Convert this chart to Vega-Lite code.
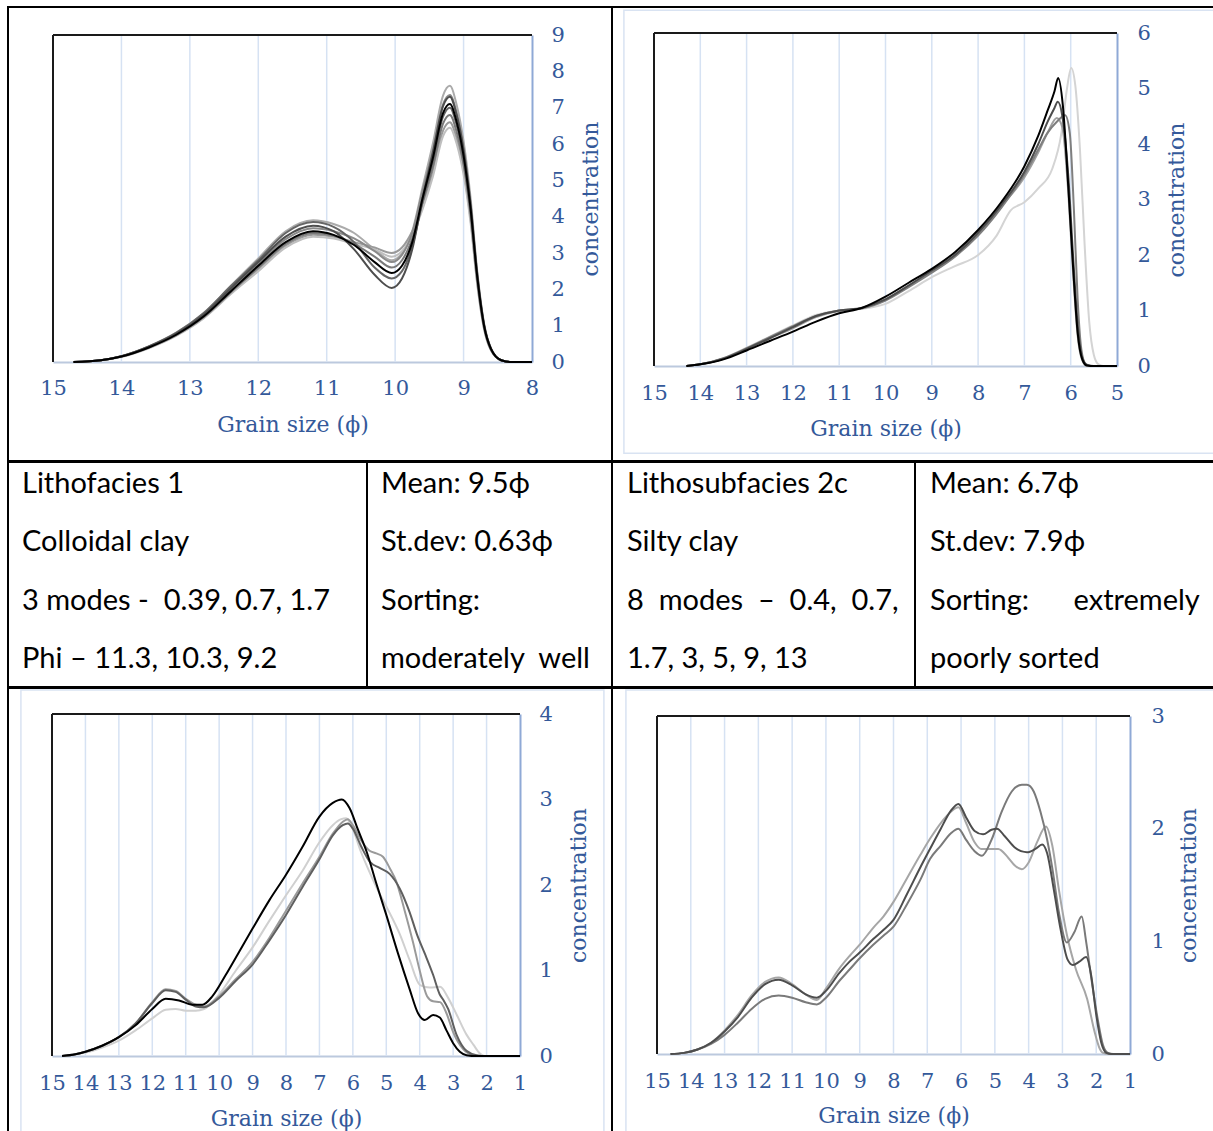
{
  "$schema": "https://vega.github.io/schema/vega-lite/v6.json",
  "background": "white",
  "padding": {"left": 7, "top": 6, "right": 0, "bottom": 0},
  "config": {
    "view": {"stroke": "#000000", "strokeWidth": 2},
    "axis": {
      "labelFont": "DejaVu Serif", "titleFont": "DejaVu Serif",
      "labelColor": "#34599A", "titleColor": "#34599A",
      "labelFontSize": 21, "titleFontSize": 22, "titleFontWeight": "normal",
      "ticks": false, "tickSize": 0, "labelFlush": false, "labelOverlap": false, "labelBound": false,
      "grid": false, "domainWidth": 2, "format": "d"
    },
    "line": {"strokeWidth": 2, "interpolate": "monotone"},
    "rule": {"color": "#D6E2F3", "strokeWidth": 1.5},
    "rect": {"filled": false, "color": "#D9E3F2", "strokeWidth": 1.5},
    "text": {"font": "Lato", "fontSize": 29, "color": "#000000"}
  },
  "datasets": {
    "lithofacies1": [
      {"sample":"a2","phi":14.7,"conc":0},{"sample":"a2","phi":14.3,"conc":0.05},{"sample":"a2","phi":14.0,"conc":0.16},{"sample":"a2","phi":13.6,"conc":0.43},{"sample":"a2","phi":13.2,"conc":0.81},{"sample":"a2","phi":12.8,"conc":1.35},{"sample":"a2","phi":12.4,"conc":2.1},{"sample":"a2","phi":12.0,"conc":2.85},{"sample":"a2","phi":11.6,"conc":3.6},{"sample":"a2","phi":11.2,"conc":3.9},{"sample":"a2","phi":10.9,"conc":3.8},{"sample":"a2","phi":10.6,"conc":3.55},{"sample":"a2","phi":10.3,"conc":3.1},{"sample":"a2","phi":10.05,"conc":2.8},{"sample":"a2","phi":9.9,"conc":3.0},{"sample":"a2","phi":9.75,"conc":3.6},{"sample":"a2","phi":9.6,"conc":4.8},{"sample":"a2","phi":9.45,"conc":6.0},{"sample":"a2","phi":9.3,"conc":7.33},{"sample":"a2","phi":9.2,"conc":7.6},{"sample":"a2","phi":9.1,"conc":7.07},{"sample":"a2","phi":9.0,"conc":6.08},{"sample":"a2","phi":8.9,"conc":4.56},{"sample":"a2","phi":8.8,"conc":2.5},{"sample":"a2","phi":8.7,"conc":1.06},{"sample":"a2","phi":8.6,"conc":0.38},{"sample":"a2","phi":8.45,"conc":0.05},{"sample":"a2","phi":8.3,"conc":0},{"sample":"a2","phi":8.0,"conc":0},
      {"sample":"a4","phi":14.7,"conc":0},{"sample":"a4","phi":14.3,"conc":0.05},{"sample":"a4","phi":14.0,"conc":0.15},{"sample":"a4","phi":13.6,"conc":0.39},{"sample":"a4","phi":13.2,"conc":0.73},{"sample":"a4","phi":12.8,"conc":1.21},{"sample":"a4","phi":12.4,"conc":1.89},{"sample":"a4","phi":12.0,"conc":2.55},{"sample":"a4","phi":11.6,"conc":3.2},{"sample":"a4","phi":11.2,"conc":3.5},{"sample":"a4","phi":10.9,"conc":3.45},{"sample":"a4","phi":10.6,"conc":3.3},{"sample":"a4","phi":10.3,"conc":3.15},{"sample":"a4","phi":10.05,"conc":3.0},{"sample":"a4","phi":9.9,"conc":3.15},{"sample":"a4","phi":9.75,"conc":3.6},{"sample":"a4","phi":9.6,"conc":4.3},{"sample":"a4","phi":9.45,"conc":5.2},{"sample":"a4","phi":9.3,"conc":6.37},{"sample":"a4","phi":9.2,"conc":6.6},{"sample":"a4","phi":9.1,"conc":6.14},{"sample":"a4","phi":9.0,"conc":5.28},{"sample":"a4","phi":8.9,"conc":3.96},{"sample":"a4","phi":8.8,"conc":2.18},{"sample":"a4","phi":8.7,"conc":0.92},{"sample":"a4","phi":8.6,"conc":0.33},{"sample":"a4","phi":8.45,"conc":0.05},{"sample":"a4","phi":8.3,"conc":0},{"sample":"a4","phi":8.0,"conc":0},
      {"sample":"a6","phi":14.7,"conc":0},{"sample":"a6","phi":14.3,"conc":0.05},{"sample":"a6","phi":14.0,"conc":0.14},{"sample":"a6","phi":13.6,"conc":0.38},{"sample":"a6","phi":13.2,"conc":0.72},{"sample":"a6","phi":12.8,"conc":1.2},{"sample":"a6","phi":12.4,"conc":1.87},{"sample":"a6","phi":12.0,"conc":2.5},{"sample":"a6","phi":11.6,"conc":3.15},{"sample":"a6","phi":11.2,"conc":3.45},{"sample":"a6","phi":10.9,"conc":3.4},{"sample":"a6","phi":10.6,"conc":3.25},{"sample":"a6","phi":10.3,"conc":3.1},{"sample":"a6","phi":10.05,"conc":2.9},{"sample":"a6","phi":9.9,"conc":3.05},{"sample":"a6","phi":9.75,"conc":3.5},{"sample":"a6","phi":9.6,"conc":4.2},{"sample":"a6","phi":9.45,"conc":5.09},{"sample":"a6","phi":9.3,"conc":6.22},{"sample":"a6","phi":9.2,"conc":6.45},{"sample":"a6","phi":9.1,"conc":6.0},{"sample":"a6","phi":9.0,"conc":5.16},{"sample":"a6","phi":8.9,"conc":3.87},{"sample":"a6","phi":8.8,"conc":2.13},{"sample":"a6","phi":8.7,"conc":0.9},{"sample":"a6","phi":8.6,"conc":0.32},{"sample":"a6","phi":8.45,"conc":0.05},{"sample":"a6","phi":8.3,"conc":0},{"sample":"a6","phi":8.0,"conc":0},
      {"sample":"a5","phi":14.7,"conc":0},{"sample":"a5","phi":14.3,"conc":0.05},{"sample":"a5","phi":14.0,"conc":0.15},{"sample":"a5","phi":13.6,"conc":0.4},{"sample":"a5","phi":13.2,"conc":0.74},{"sample":"a5","phi":12.8,"conc":1.23},{"sample":"a5","phi":12.4,"conc":1.92},{"sample":"a5","phi":12.0,"conc":2.6},{"sample":"a5","phi":11.6,"conc":3.25},{"sample":"a5","phi":11.2,"conc":3.55},{"sample":"a5","phi":10.9,"conc":3.48},{"sample":"a5","phi":10.6,"conc":3.25},{"sample":"a5","phi":10.3,"conc":2.9},{"sample":"a5","phi":10.05,"conc":2.6},{"sample":"a5","phi":9.9,"conc":2.8},{"sample":"a5","phi":9.75,"conc":3.4},{"sample":"a5","phi":9.6,"conc":4.4},{"sample":"a5","phi":9.45,"conc":5.36},{"sample":"a5","phi":9.3,"conc":6.56},{"sample":"a5","phi":9.2,"conc":6.8},{"sample":"a5","phi":9.1,"conc":6.32},{"sample":"a5","phi":9.0,"conc":5.44},{"sample":"a5","phi":8.9,"conc":4.08},{"sample":"a5","phi":8.8,"conc":2.24},{"sample":"a5","phi":8.7,"conc":0.95},{"sample":"a5","phi":8.6,"conc":0.34},{"sample":"a5","phi":8.45,"conc":0.05},{"sample":"a5","phi":8.3,"conc":0},{"sample":"a5","phi":8.0,"conc":0},
      {"sample":"a8","phi":14.7,"conc":0},{"sample":"a8","phi":14.3,"conc":0.05},{"sample":"a8","phi":14.0,"conc":0.15},{"sample":"a8","phi":13.6,"conc":0.41},{"sample":"a8","phi":13.2,"conc":0.77},{"sample":"a8","phi":12.8,"conc":1.28},{"sample":"a8","phi":12.4,"conc":1.99},{"sample":"a8","phi":12.0,"conc":2.7},{"sample":"a8","phi":11.6,"conc":3.38},{"sample":"a8","phi":11.2,"conc":3.68},{"sample":"a8","phi":10.9,"conc":3.6},{"sample":"a8","phi":10.6,"conc":3.4},{"sample":"a8","phi":10.3,"conc":3.05},{"sample":"a8","phi":10.05,"conc":2.75},{"sample":"a8","phi":9.9,"conc":2.95},{"sample":"a8","phi":9.75,"conc":3.55},{"sample":"a8","phi":9.6,"conc":4.7},{"sample":"a8","phi":9.45,"conc":5.8},{"sample":"a8","phi":9.3,"conc":7.09},{"sample":"a8","phi":9.2,"conc":7.35},{"sample":"a8","phi":9.1,"conc":6.84},{"sample":"a8","phi":9.0,"conc":5.88},{"sample":"a8","phi":8.9,"conc":4.41},{"sample":"a8","phi":8.8,"conc":2.43},{"sample":"a8","phi":8.7,"conc":1.03},{"sample":"a8","phi":8.6,"conc":0.37},{"sample":"a8","phi":8.45,"conc":0.05},{"sample":"a8","phi":8.3,"conc":0},{"sample":"a8","phi":8.0,"conc":0},
      {"sample":"a7","phi":14.7,"conc":0},{"sample":"a7","phi":14.3,"conc":0.05},{"sample":"a7","phi":14.0,"conc":0.16},{"sample":"a7","phi":13.6,"conc":0.43},{"sample":"a7","phi":13.2,"conc":0.8},{"sample":"a7","phi":12.8,"conc":1.34},{"sample":"a7","phi":12.4,"conc":2.09},{"sample":"a7","phi":12.0,"conc":2.8},{"sample":"a7","phi":11.6,"conc":3.55},{"sample":"a7","phi":11.2,"conc":3.85},{"sample":"a7","phi":10.9,"conc":3.72},{"sample":"a7","phi":10.6,"conc":3.3},{"sample":"a7","phi":10.3,"conc":2.6},{"sample":"a7","phi":10.05,"conc":2.3},{"sample":"a7","phi":9.9,"conc":2.5},{"sample":"a7","phi":9.75,"conc":3.2},{"sample":"a7","phi":9.6,"conc":4.4},{"sample":"a7","phi":9.45,"conc":5.52},{"sample":"a7","phi":9.3,"conc":6.75},{"sample":"a7","phi":9.2,"conc":7.0},{"sample":"a7","phi":9.1,"conc":6.51},{"sample":"a7","phi":9.0,"conc":5.6},{"sample":"a7","phi":8.9,"conc":4.2},{"sample":"a7","phi":8.8,"conc":2.31},{"sample":"a7","phi":8.7,"conc":0.98},{"sample":"a7","phi":8.6,"conc":0.35},{"sample":"a7","phi":8.45,"conc":0.05},{"sample":"a7","phi":8.3,"conc":0},{"sample":"a7","phi":8.0,"conc":0},
      {"sample":"a3","phi":14.7,"conc":0},{"sample":"a3","phi":14.3,"conc":0.05},{"sample":"a3","phi":14.0,"conc":0.16},{"sample":"a3","phi":13.6,"conc":0.42},{"sample":"a3","phi":13.2,"conc":0.78},{"sample":"a3","phi":12.8,"conc":1.3},{"sample":"a3","phi":12.4,"conc":2.03},{"sample":"a3","phi":12.0,"conc":2.75},{"sample":"a3","phi":11.6,"conc":3.45},{"sample":"a3","phi":11.2,"conc":3.75},{"sample":"a3","phi":10.9,"conc":3.6},{"sample":"a3","phi":10.6,"conc":3.1},{"sample":"a3","phi":10.3,"conc":2.4},{"sample":"a3","phi":10.05,"conc":2.04},{"sample":"a3","phi":9.9,"conc":2.3},{"sample":"a3","phi":9.75,"conc":3.1},{"sample":"a3","phi":9.6,"conc":4.5},{"sample":"a3","phi":9.45,"conc":5.75},{"sample":"a3","phi":9.3,"conc":7.04},{"sample":"a3","phi":9.2,"conc":7.3},{"sample":"a3","phi":9.1,"conc":6.79},{"sample":"a3","phi":9.0,"conc":5.84},{"sample":"a3","phi":8.9,"conc":4.38},{"sample":"a3","phi":8.8,"conc":2.41},{"sample":"a3","phi":8.7,"conc":1.02},{"sample":"a3","phi":8.6,"conc":0.37},{"sample":"a3","phi":8.45,"conc":0.05},{"sample":"a3","phi":8.3,"conc":0},{"sample":"a3","phi":8.0,"conc":0},
      {"sample":"a1","phi":14.7,"conc":0},{"sample":"a1","phi":14.3,"conc":0.05},{"sample":"a1","phi":14.0,"conc":0.15},{"sample":"a1","phi":13.6,"conc":0.4},{"sample":"a1","phi":13.2,"conc":0.75},{"sample":"a1","phi":12.8,"conc":1.25},{"sample":"a1","phi":12.4,"conc":1.95},{"sample":"a1","phi":12.0,"conc":2.65},{"sample":"a1","phi":11.6,"conc":3.3},{"sample":"a1","phi":11.2,"conc":3.6},{"sample":"a1","phi":10.9,"conc":3.5},{"sample":"a1","phi":10.6,"conc":3.22},{"sample":"a1","phi":10.3,"conc":2.75},{"sample":"a1","phi":10.05,"conc":2.45},{"sample":"a1","phi":9.9,"conc":2.65},{"sample":"a1","phi":9.75,"conc":3.3},{"sample":"a1","phi":9.6,"conc":4.5},{"sample":"a1","phi":9.45,"conc":5.6},{"sample":"a1","phi":9.3,"conc":6.85},{"sample":"a1","phi":9.2,"conc":7.1},{"sample":"a1","phi":9.1,"conc":6.6},{"sample":"a1","phi":9.0,"conc":5.68},{"sample":"a1","phi":8.9,"conc":4.26},{"sample":"a1","phi":8.8,"conc":2.34},{"sample":"a1","phi":8.7,"conc":0.99},{"sample":"a1","phi":8.6,"conc":0.36},{"sample":"a1","phi":8.45,"conc":0.05},{"sample":"a1","phi":8.3,"conc":0},{"sample":"a1","phi":8.0,"conc":0}
    ],
    "lithosubfacies2c": [
      {"sample":"b5","phi":14.3,"conc":0},{"sample":"b5","phi":14.0,"conc":0.03},{"sample":"b5","phi":13.5,"conc":0.14},{"sample":"b5","phi":13.0,"conc":0.33},{"sample":"b5","phi":12.5,"conc":0.53},{"sample":"b5","phi":12.0,"conc":0.73},{"sample":"b5","phi":11.5,"conc":0.92},{"sample":"b5","phi":11.0,"conc":1.0},{"sample":"b5","phi":10.5,"conc":1.03},{"sample":"b5","phi":10.0,"conc":1.12},{"sample":"b5","phi":9.5,"conc":1.35},{"sample":"b5","phi":9.0,"conc":1.6},{"sample":"b5","phi":8.5,"conc":1.8},{"sample":"b5","phi":8.0,"conc":2.0},{"sample":"b5","phi":7.6,"conc":2.35},{"sample":"b5","phi":7.3,"conc":2.8},{"sample":"b5","phi":7.0,"conc":2.95},{"sample":"b5","phi":6.7,"conc":3.2},{"sample":"b5","phi":6.4,"conc":3.55},{"sample":"b5","phi":6.2,"conc":4.2},{"sample":"b5","phi":6.08,"conc":5.0},{"sample":"b5","phi":5.99,"conc":5.37},{"sample":"b5","phi":5.9,"conc":5.05},{"sample":"b5","phi":5.8,"conc":3.9},{"sample":"b5","phi":5.7,"conc":2.2},{"sample":"b5","phi":5.6,"conc":0.8},{"sample":"b5","phi":5.5,"conc":0.2},{"sample":"b5","phi":5.4,"conc":0.03},{"sample":"b5","phi":5.3,"conc":0},{"sample":"b5","phi":5.0,"conc":0},
      {"sample":"b4","phi":14.3,"conc":0},{"sample":"b4","phi":14.0,"conc":0.03},{"sample":"b4","phi":13.5,"conc":0.13},{"sample":"b4","phi":13.0,"conc":0.3},{"sample":"b4","phi":12.5,"conc":0.5},{"sample":"b4","phi":12.0,"conc":0.68},{"sample":"b4","phi":11.5,"conc":0.88},{"sample":"b4","phi":11.0,"conc":0.99},{"sample":"b4","phi":10.5,"conc":1.04},{"sample":"b4","phi":10.0,"conc":1.2},{"sample":"b4","phi":9.5,"conc":1.45},{"sample":"b4","phi":9.0,"conc":1.7},{"sample":"b4","phi":8.5,"conc":2.0},{"sample":"b4","phi":8.0,"conc":2.38},{"sample":"b4","phi":7.5,"conc":2.88},{"sample":"b4","phi":7.0,"conc":3.4},{"sample":"b4","phi":6.7,"conc":3.85},{"sample":"b4","phi":6.5,"conc":4.2},{"sample":"b4","phi":6.3,"conc":4.47},{"sample":"b4","phi":6.18,"conc":4.3},{"sample":"b4","phi":6.05,"conc":3.1},{"sample":"b4","phi":5.95,"conc":1.7},{"sample":"b4","phi":5.85,"conc":0.55},{"sample":"b4","phi":5.75,"conc":0.1},{"sample":"b4","phi":5.65,"conc":0},{"sample":"b4","phi":5.0,"conc":0},
      {"sample":"b3","phi":14.3,"conc":0},{"sample":"b3","phi":14.0,"conc":0.03},{"sample":"b3","phi":13.5,"conc":0.14},{"sample":"b3","phi":13.0,"conc":0.32},{"sample":"b3","phi":12.5,"conc":0.52},{"sample":"b3","phi":12.0,"conc":0.72},{"sample":"b3","phi":11.5,"conc":0.9},{"sample":"b3","phi":11.0,"conc":1.0},{"sample":"b3","phi":10.5,"conc":1.04},{"sample":"b3","phi":10.0,"conc":1.18},{"sample":"b3","phi":9.5,"conc":1.42},{"sample":"b3","phi":9.0,"conc":1.68},{"sample":"b3","phi":8.5,"conc":1.97},{"sample":"b3","phi":8.0,"conc":2.35},{"sample":"b3","phi":7.5,"conc":2.85},{"sample":"b3","phi":7.0,"conc":3.45},{"sample":"b3","phi":6.7,"conc":3.9},{"sample":"b3","phi":6.5,"conc":4.2},{"sample":"b3","phi":6.3,"conc":4.4},{"sample":"b3","phi":6.12,"conc":4.52},{"sample":"b3","phi":6.02,"conc":4.2},{"sample":"b3","phi":5.93,"conc":2.8},{"sample":"b3","phi":5.85,"conc":1.2},{"sample":"b3","phi":5.77,"conc":0.3},{"sample":"b3","phi":5.68,"conc":0.04},{"sample":"b3","phi":5.55,"conc":0},{"sample":"b3","phi":5.0,"conc":0},
      {"sample":"b2","phi":14.3,"conc":0},{"sample":"b2","phi":14.0,"conc":0.03},{"sample":"b2","phi":13.5,"conc":0.13},{"sample":"b2","phi":13.0,"conc":0.31},{"sample":"b2","phi":12.5,"conc":0.5},{"sample":"b2","phi":12.0,"conc":0.7},{"sample":"b2","phi":11.5,"conc":0.9},{"sample":"b2","phi":11.0,"conc":1.0},{"sample":"b2","phi":10.5,"conc":1.05},{"sample":"b2","phi":10.0,"conc":1.2},{"sample":"b2","phi":9.5,"conc":1.45},{"sample":"b2","phi":9.0,"conc":1.72},{"sample":"b2","phi":8.5,"conc":2.0},{"sample":"b2","phi":8.0,"conc":2.4},{"sample":"b2","phi":7.5,"conc":2.9},{"sample":"b2","phi":7.0,"conc":3.5},{"sample":"b2","phi":6.7,"conc":4.0},{"sample":"b2","phi":6.5,"conc":4.4},{"sample":"b2","phi":6.35,"conc":4.65},{"sample":"b2","phi":6.28,"conc":4.76},{"sample":"b2","phi":6.18,"conc":4.5},{"sample":"b2","phi":6.05,"conc":3.4},{"sample":"b2","phi":5.95,"conc":2.0},{"sample":"b2","phi":5.85,"conc":0.75},{"sample":"b2","phi":5.75,"conc":0.15},{"sample":"b2","phi":5.65,"conc":0.02},{"sample":"b2","phi":5.5,"conc":0},{"sample":"b2","phi":5.0,"conc":0},
      {"sample":"b1","phi":14.3,"conc":0},{"sample":"b1","phi":14.0,"conc":0.03},{"sample":"b1","phi":13.5,"conc":0.12},{"sample":"b1","phi":13.0,"conc":0.28},{"sample":"b1","phi":12.5,"conc":0.45},{"sample":"b1","phi":12.0,"conc":0.62},{"sample":"b1","phi":11.5,"conc":0.8},{"sample":"b1","phi":11.0,"conc":0.95},{"sample":"b1","phi":10.5,"conc":1.05},{"sample":"b1","phi":10.0,"conc":1.25},{"sample":"b1","phi":9.5,"conc":1.5},{"sample":"b1","phi":9.0,"conc":1.75},{"sample":"b1","phi":8.5,"conc":2.05},{"sample":"b1","phi":8.0,"conc":2.45},{"sample":"b1","phi":7.5,"conc":2.95},{"sample":"b1","phi":7.0,"conc":3.6},{"sample":"b1","phi":6.7,"conc":4.15},{"sample":"b1","phi":6.5,"conc":4.6},{"sample":"b1","phi":6.35,"conc":4.95},{"sample":"b1","phi":6.27,"conc":5.19},{"sample":"b1","phi":6.17,"conc":4.7},{"sample":"b1","phi":6.05,"conc":3.2},{"sample":"b1","phi":5.95,"conc":1.8},{"sample":"b1","phi":5.85,"conc":0.6},{"sample":"b1","phi":5.75,"conc":0.12},{"sample":"b1","phi":5.65,"conc":0.01},{"sample":"b1","phi":5.5,"conc":0},{"sample":"b1","phi":5.0,"conc":0}
    ],
    "chartC": [
      {"sample":"c4","phi":14.7,"conc":0},{"sample":"c4","phi":14.3,"conc":0.02},{"sample":"c4","phi":14.0,"conc":0.04},{"sample":"c4","phi":13.5,"conc":0.1},{"sample":"c4","phi":13.0,"conc":0.18},{"sample":"c4","phi":12.5,"conc":0.3},{"sample":"c4","phi":12.0,"conc":0.44},{"sample":"c4","phi":11.6,"conc":0.54},{"sample":"c4","phi":11.3,"conc":0.55},{"sample":"c4","phi":11.0,"conc":0.53},{"sample":"c4","phi":10.7,"conc":0.53},{"sample":"c4","phi":10.45,"conc":0.55},{"sample":"c4","phi":10.0,"conc":0.72},{"sample":"c4","phi":9.5,"conc":1.0},{"sample":"c4","phi":9.0,"conc":1.27},{"sample":"c4","phi":8.5,"conc":1.58},{"sample":"c4","phi":8.0,"conc":1.88},{"sample":"c4","phi":7.5,"conc":2.17},{"sample":"c4","phi":7.0,"conc":2.5},{"sample":"c4","phi":6.6,"conc":2.7},{"sample":"c4","phi":6.35,"conc":2.77},{"sample":"c4","phi":6.2,"conc":2.78},{"sample":"c4","phi":6.0,"conc":2.65},{"sample":"c4","phi":5.75,"conc":2.38},{"sample":"c4","phi":5.5,"conc":2.15},{"sample":"c4","phi":5.28,"conc":1.96},{"sample":"c4","phi":5.0,"conc":1.75},{"sample":"c4","phi":4.59,"conc":1.42},{"sample":"c4","phi":4.3,"conc":1.12},{"sample":"c4","phi":3.99,"conc":0.83},{"sample":"c4","phi":3.7,"conc":0.8},{"sample":"c4","phi":3.39,"conc":0.81},{"sample":"c4","phi":3.15,"conc":0.68},{"sample":"c4","phi":2.89,"conc":0.48},{"sample":"c4","phi":2.6,"conc":0.25},{"sample":"c4","phi":2.39,"conc":0.13},{"sample":"c4","phi":2.2,"conc":0.03},{"sample":"c4","phi":2.05,"conc":0},{"sample":"c4","phi":1.0,"conc":0},
      {"sample":"c3","phi":14.7,"conc":0},{"sample":"c3","phi":14.3,"conc":0.02},{"sample":"c3","phi":14.0,"conc":0.05},{"sample":"c3","phi":13.5,"conc":0.12},{"sample":"c3","phi":13.0,"conc":0.22},{"sample":"c3","phi":12.5,"conc":0.38},{"sample":"c3","phi":12.0,"conc":0.63},{"sample":"c3","phi":11.6,"conc":0.78},{"sample":"c3","phi":11.3,"conc":0.76},{"sample":"c3","phi":11.0,"conc":0.67},{"sample":"c3","phi":10.7,"conc":0.6},{"sample":"c3","phi":10.45,"conc":0.58},{"sample":"c3","phi":10.0,"conc":0.7},{"sample":"c3","phi":9.5,"conc":0.9},{"sample":"c3","phi":9.0,"conc":1.1},{"sample":"c3","phi":8.5,"conc":1.38},{"sample":"c3","phi":8.0,"conc":1.7},{"sample":"c3","phi":7.5,"conc":2.02},{"sample":"c3","phi":7.0,"conc":2.33},{"sample":"c3","phi":6.6,"conc":2.6},{"sample":"c3","phi":6.3,"conc":2.74},{"sample":"c3","phi":6.15,"conc":2.77},{"sample":"c3","phi":6.0,"conc":2.7},{"sample":"c3","phi":5.75,"conc":2.52},{"sample":"c3","phi":5.5,"conc":2.4},{"sample":"c3","phi":5.3,"conc":2.37},{"sample":"c3","phi":5.1,"conc":2.33},{"sample":"c3","phi":4.9,"conc":2.2},{"sample":"c3","phi":4.71,"conc":2.05},{"sample":"c3","phi":4.45,"conc":1.7},{"sample":"c3","phi":4.2,"conc":1.33},{"sample":"c3","phi":4.0,"conc":1.0},{"sample":"c3","phi":3.78,"conc":0.7},{"sample":"c3","phi":3.6,"conc":0.64},{"sample":"c3","phi":3.39,"conc":0.63},{"sample":"c3","phi":3.2,"conc":0.5},{"sample":"c3","phi":3.0,"conc":0.28},{"sample":"c3","phi":2.7,"conc":0.08},{"sample":"c3","phi":2.4,"conc":0.01},{"sample":"c3","phi":2.1,"conc":0},{"sample":"c3","phi":1.0,"conc":0},
      {"sample":"c2","phi":14.7,"conc":0},{"sample":"c2","phi":14.3,"conc":0.02},{"sample":"c2","phi":14.0,"conc":0.05},{"sample":"c2","phi":13.5,"conc":0.12},{"sample":"c2","phi":13.0,"conc":0.22},{"sample":"c2","phi":12.5,"conc":0.38},{"sample":"c2","phi":12.0,"conc":0.62},{"sample":"c2","phi":11.6,"conc":0.77},{"sample":"c2","phi":11.3,"conc":0.75},{"sample":"c2","phi":11.0,"conc":0.66},{"sample":"c2","phi":10.7,"conc":0.58},{"sample":"c2","phi":10.45,"conc":0.57},{"sample":"c2","phi":10.0,"conc":0.68},{"sample":"c2","phi":9.5,"conc":0.88},{"sample":"c2","phi":9.0,"conc":1.07},{"sample":"c2","phi":8.5,"conc":1.35},{"sample":"c2","phi":8.0,"conc":1.65},{"sample":"c2","phi":7.5,"conc":1.98},{"sample":"c2","phi":7.0,"conc":2.3},{"sample":"c2","phi":6.6,"conc":2.58},{"sample":"c2","phi":6.3,"conc":2.7},{"sample":"c2","phi":6.15,"conc":2.72},{"sample":"c2","phi":6.0,"conc":2.66},{"sample":"c2","phi":5.75,"conc":2.45},{"sample":"c2","phi":5.49,"conc":2.27},{"sample":"c2","phi":5.2,"conc":2.2},{"sample":"c2","phi":4.9,"conc":2.13},{"sample":"c2","phi":4.6,"conc":1.96},{"sample":"c2","phi":4.3,"conc":1.68},{"sample":"c2","phi":4.08,"conc":1.42},{"sample":"c2","phi":3.85,"conc":1.2},{"sample":"c2","phi":3.6,"conc":0.95},{"sample":"c2","phi":3.4,"conc":0.72},{"sample":"c2","phi":3.3,"conc":0.66},{"sample":"c2","phi":3.15,"conc":0.55},{"sample":"c2","phi":2.9,"conc":0.25},{"sample":"c2","phi":2.6,"conc":0.06},{"sample":"c2","phi":2.3,"conc":0.01},{"sample":"c2","phi":2.0,"conc":0},{"sample":"c2","phi":1.0,"conc":0},
      {"sample":"c1","phi":14.7,"conc":0},{"sample":"c1","phi":14.3,"conc":0.02},{"sample":"c1","phi":14.0,"conc":0.05},{"sample":"c1","phi":13.5,"conc":0.12},{"sample":"c1","phi":13.0,"conc":0.22},{"sample":"c1","phi":12.5,"conc":0.36},{"sample":"c1","phi":12.0,"conc":0.55},{"sample":"c1","phi":11.6,"conc":0.67},{"sample":"c1","phi":11.2,"conc":0.65},{"sample":"c1","phi":10.8,"conc":0.6},{"sample":"c1","phi":10.5,"conc":0.6},{"sample":"c1","phi":10.2,"conc":0.7},{"sample":"c1","phi":9.8,"conc":0.95},{"sample":"c1","phi":9.4,"conc":1.22},{"sample":"c1","phi":9.0,"conc":1.49},{"sample":"c1","phi":8.5,"conc":1.82},{"sample":"c1","phi":8.0,"conc":2.12},{"sample":"c1","phi":7.5,"conc":2.45},{"sample":"c1","phi":7.0,"conc":2.8},{"sample":"c1","phi":6.6,"conc":2.96},{"sample":"c1","phi":6.33,"conc":3.0},{"sample":"c1","phi":6.1,"conc":2.9},{"sample":"c1","phi":5.85,"conc":2.65},{"sample":"c1","phi":5.58,"conc":2.38},{"sample":"c1","phi":5.3,"conc":2.02},{"sample":"c1","phi":5.0,"conc":1.65},{"sample":"c1","phi":4.65,"conc":1.2},{"sample":"c1","phi":4.3,"conc":0.78},{"sample":"c1","phi":4.05,"conc":0.5},{"sample":"c1","phi":3.85,"conc":0.42},{"sample":"c1","phi":3.6,"conc":0.48},{"sample":"c1","phi":3.4,"conc":0.45},{"sample":"c1","phi":3.2,"conc":0.3},{"sample":"c1","phi":3.0,"conc":0.15},{"sample":"c1","phi":2.8,"conc":0.05},{"sample":"c1","phi":2.6,"conc":0.01},{"sample":"c1","phi":2.3,"conc":0},{"sample":"c1","phi":1.0,"conc":0}
    ],
    "chartD": [
      {"sample":"d3","phi":14.6,"conc":0},{"sample":"d3","phi":14.2,"conc":0.01},{"sample":"d3","phi":13.8,"conc":0.04},{"sample":"d3","phi":13.4,"conc":0.1},{"sample":"d3","phi":13.0,"conc":0.21},{"sample":"d3","phi":12.6,"conc":0.35},{"sample":"d3","phi":12.2,"conc":0.52},{"sample":"d3","phi":11.8,"conc":0.64},{"sample":"d3","phi":11.4,"conc":0.68},{"sample":"d3","phi":11.0,"conc":0.62},{"sample":"d3","phi":10.6,"conc":0.53},{"sample":"d3","phi":10.27,"conc":0.48},{"sample":"d3","phi":10.0,"conc":0.58},{"sample":"d3","phi":9.6,"conc":0.76},{"sample":"d3","phi":9.3,"conc":0.87},{"sample":"d3","phi":9.0,"conc":0.97},{"sample":"d3","phi":8.6,"conc":1.12},{"sample":"d3","phi":8.3,"conc":1.22},{"sample":"d3","phi":8.0,"conc":1.35},{"sample":"d3","phi":7.6,"conc":1.56},{"sample":"d3","phi":7.2,"conc":1.77},{"sample":"d3","phi":6.92,"conc":1.91},{"sample":"d3","phi":6.6,"conc":2.05},{"sample":"d3","phi":6.3,"conc":2.15},{"sample":"d3","phi":6.08,"conc":2.19},{"sample":"d3","phi":5.85,"conc":2.05},{"sample":"d3","phi":5.6,"conc":1.88},{"sample":"d3","phi":5.4,"conc":1.82},{"sample":"d3","phi":5.1,"conc":1.82},{"sample":"d3","phi":4.9,"conc":1.82},{"sample":"d3","phi":4.6,"conc":1.74},{"sample":"d3","phi":4.4,"conc":1.67},{"sample":"d3","phi":4.2,"conc":1.64},{"sample":"d3","phi":4.0,"conc":1.7},{"sample":"d3","phi":3.75,"conc":1.88},{"sample":"d3","phi":3.49,"conc":2.02},{"sample":"d3","phi":3.3,"conc":1.85},{"sample":"d3","phi":3.1,"conc":1.45},{"sample":"d3","phi":2.87,"conc":1.06},{"sample":"d3","phi":2.6,"conc":0.75},{"sample":"d3","phi":2.27,"conc":0.49},{"sample":"d3","phi":2.05,"conc":0.2},{"sample":"d3","phi":1.9,"conc":0.05},{"sample":"d3","phi":1.8,"conc":0.01},{"sample":"d3","phi":1.6,"conc":0},{"sample":"d3","phi":1.0,"conc":0},
      {"sample":"d2","phi":14.6,"conc":0},{"sample":"d2","phi":14.2,"conc":0.01},{"sample":"d2","phi":13.8,"conc":0.04},{"sample":"d2","phi":13.4,"conc":0.09},{"sample":"d2","phi":13.0,"conc":0.17},{"sample":"d2","phi":12.6,"conc":0.28},{"sample":"d2","phi":12.2,"conc":0.4},{"sample":"d2","phi":11.8,"conc":0.49},{"sample":"d2","phi":11.4,"conc":0.52},{"sample":"d2","phi":11.0,"conc":0.5},{"sample":"d2","phi":10.6,"conc":0.46},{"sample":"d2","phi":10.27,"conc":0.44},{"sample":"d2","phi":10.0,"conc":0.5},{"sample":"d2","phi":9.6,"conc":0.65},{"sample":"d2","phi":9.3,"conc":0.75},{"sample":"d2","phi":9.0,"conc":0.85},{"sample":"d2","phi":8.6,"conc":0.97},{"sample":"d2","phi":8.3,"conc":1.05},{"sample":"d2","phi":8.0,"conc":1.13},{"sample":"d2","phi":7.6,"conc":1.33},{"sample":"d2","phi":7.2,"conc":1.55},{"sample":"d2","phi":6.92,"conc":1.73},{"sample":"d2","phi":6.6,"conc":1.85},{"sample":"d2","phi":6.3,"conc":1.96},{"sample":"d2","phi":6.08,"conc":2.0},{"sample":"d2","phi":5.85,"conc":1.9},{"sample":"d2","phi":5.6,"conc":1.8},{"sample":"d2","phi":5.38,"conc":1.76},{"sample":"d2","phi":5.1,"conc":1.9},{"sample":"d2","phi":4.8,"conc":2.15},{"sample":"d2","phi":4.5,"conc":2.33},{"sample":"d2","phi":4.2,"conc":2.39},{"sample":"d2","phi":4.05,"conc":2.39},{"sample":"d2","phi":3.85,"conc":2.33},{"sample":"d2","phi":3.65,"conc":2.15},{"sample":"d2","phi":3.45,"conc":1.9},{"sample":"d2","phi":3.3,"conc":1.65},{"sample":"d2","phi":3.1,"conc":1.25},{"sample":"d2","phi":2.87,"conc":0.99},{"sample":"d2","phi":2.65,"conc":1.08},{"sample":"d2","phi":2.43,"conc":1.22},{"sample":"d2","phi":2.3,"conc":1.0},{"sample":"d2","phi":2.13,"conc":0.64},{"sample":"d2","phi":1.95,"conc":0.3},{"sample":"d2","phi":1.8,"conc":0.08},{"sample":"d2","phi":1.65,"conc":0.01},{"sample":"d2","phi":1.5,"conc":0},{"sample":"d2","phi":1.0,"conc":0},
      {"sample":"d1","phi":14.6,"conc":0},{"sample":"d1","phi":14.2,"conc":0.01},{"sample":"d1","phi":13.8,"conc":0.04},{"sample":"d1","phi":13.4,"conc":0.1},{"sample":"d1","phi":13.0,"conc":0.2},{"sample":"d1","phi":12.6,"conc":0.33},{"sample":"d1","phi":12.2,"conc":0.5},{"sample":"d1","phi":11.8,"conc":0.62},{"sample":"d1","phi":11.4,"conc":0.66},{"sample":"d1","phi":11.0,"conc":0.61},{"sample":"d1","phi":10.6,"conc":0.53},{"sample":"d1","phi":10.27,"conc":0.5},{"sample":"d1","phi":10.0,"conc":0.56},{"sample":"d1","phi":9.6,"conc":0.72},{"sample":"d1","phi":9.3,"conc":0.82},{"sample":"d1","phi":9.0,"conc":0.9},{"sample":"d1","phi":8.6,"conc":1.02},{"sample":"d1","phi":8.3,"conc":1.1},{"sample":"d1","phi":8.0,"conc":1.19},{"sample":"d1","phi":7.6,"conc":1.42},{"sample":"d1","phi":7.2,"conc":1.66},{"sample":"d1","phi":6.92,"conc":1.82},{"sample":"d1","phi":6.6,"conc":2.0},{"sample":"d1","phi":6.3,"conc":2.16},{"sample":"d1","phi":6.08,"conc":2.22},{"sample":"d1","phi":5.85,"conc":2.1},{"sample":"d1","phi":5.6,"conc":1.98},{"sample":"d1","phi":5.35,"conc":1.95},{"sample":"d1","phi":5.1,"conc":1.99},{"sample":"d1","phi":4.94,"conc":2.0},{"sample":"d1","phi":4.7,"conc":1.93},{"sample":"d1","phi":4.4,"conc":1.83},{"sample":"d1","phi":4.05,"conc":1.79},{"sample":"d1","phi":3.8,"conc":1.82},{"sample":"d1","phi":3.6,"conc":1.86},{"sample":"d1","phi":3.45,"conc":1.78},{"sample":"d1","phi":3.25,"conc":1.45},{"sample":"d1","phi":3.05,"conc":1.1},{"sample":"d1","phi":2.85,"conc":0.84},{"sample":"d1","phi":2.69,"conc":0.79},{"sample":"d1","phi":2.5,"conc":0.82},{"sample":"d1","phi":2.3,"conc":0.86},{"sample":"d1","phi":2.15,"conc":0.7},{"sample":"d1","phi":2.0,"conc":0.35},{"sample":"d1","phi":1.85,"conc":0.1},{"sample":"d1","phi":1.7,"conc":0.01},{"sample":"d1","phi":1.55,"conc":0},{"sample":"d1","phi":1.0,"conc":0}
    ],
    "summary": [
      {"col":1,"line":1,"text":"Lithofacies 1"},
      {"col":1,"line":2,"text":"Colloidal clay"},
      {"col":1,"line":3,"text":"3 modes -\u00a0 0.39, 0.7, 1.7"},
      {"col":1,"line":4,"text":"Phi – 11.3, 10.3, 9.2"},
      {"col":2,"line":1,"text":"Mean: 9.5ϕ"},
      {"col":2,"line":2,"text":"St.dev: 0.63ϕ"},
      {"col":2,"line":3,"text":"Sorting:"},
      {"col":2,"line":4,"text":"moderately\u00a0 well"},
      {"col":3,"line":1,"text":"Lithosubfacies 2c"},
      {"col":3,"line":2,"text":"Silty clay"},
      {"col":3,"line":3,"text":"8\u00a0 modes\u00a0 –\u00a0 0.4,\u00a0 0.7,"},
      {"col":3,"line":4,"text":"1.7, 3, 5, 9, 13"},
      {"col":4,"line":1,"text":"Mean: 6.7ϕ"},
      {"col":4,"line":2,"text":"St.dev: 7.9ϕ"},
      {"col":4,"line":3,"text":"Sorting:\u00a0\u00a0\u00a0\u00a0\u00a0 extremely"},
      {"col":4,"line":4,"text":"poorly sorted"}
    ],
    "gridA": [{"phi":14},{"phi":13},{"phi":12},{"phi":11},{"phi":10},{"phi":9}],
    "gridB": [{"phi":14},{"phi":13},{"phi":12},{"phi":11},{"phi":10},{"phi":9},{"phi":8},{"phi":7},{"phi":6}],
    "gridCD": [{"phi":14},{"phi":13},{"phi":12},{"phi":11},{"phi":10},{"phi":9},{"phi":8},{"phi":7},{"phi":6},{"phi":5},{"phi":4},{"phi":3},{"phi":2}]
  },
  "spacing": -2,
  "vconcat": [
    {
      "spacing": 0,
      "bounds": "flush",
      "hconcat": [
        {
          "width": 604, "height": 454,
          "layer": [
            {
              "data": {"name": "gridA"},
              "mark": {"type": "rule"},
              "encoding": {"x": {"field": "phi", "type": "quantitative"}, "y": {"datum": 0, "type": "quantitative"}, "y2": {"datum": 9}}
            },
            {
              "data": {"name": "lithofacies1"},
              "mark": {"type": "line"},
              "encoding": {
                "x": {"field": "phi", "type": "quantitative",
                  "scale": {"domain": [15, 8], "range": [45, 524], "nice": false, "zero": false},
                  "axis": {"orient": "bottom", "offset": -99, "values": [15,14,13,12,11,10,9,8], "title": "Grain size (ϕ)",
                    "domainColor": "#BCC9DE", "labelPadding": 26, "labelBaseline": "middle", "titleY": 62, "titleBaseline": "middle"}},
                "y": {"field": "conc", "type": "quantitative",
                  "scale": {"domain": [0, 9], "range": [355, 28], "nice": false, "zero": false},
                  "axis": {"orient": "right", "offset": -80, "values": [0,1,2,3,4,5,6,7,8,9], "title": "concentration",
                    "domainColor": "#8FA9D6", "labelPadding": 19, "titleAngle": 270, "titleX": 58, "titleBaseline": "middle"}},
                "color": {"field": "sample", "type": "nominal", "legend": null,
                  "scale": {"domain": ["a2","a4","a6","a5","a8","a7","a3","a1","b5","b4","b3","b2","b1","c4","c3","c2","c1","d3","d2","d1"],
                            "range": ["#ABABAB","#9A9A9A","#BFBFBF","#7A7A7A","#8A8A8A","#666666","#4D4D4D","#000000","#D4D4D4","#A0A0A0","#7F7F7F","#4D4D4D","#000000","#D0D0D0","#9A9A9A","#5F5F5F","#000000","#A6A6A6","#7A7A7A","#4D4D4D"]}}
              }
            },
            {
              "data": {"values": [{}]},
              "mark": {"type": "rule", "color": "#1A1A1A", "strokeWidth": 2},
              "encoding": {"x": {"datum": 15, "type": "quantitative"}, "x2": {"datum": 8}, "y": {"datum": 9, "type": "quantitative"}}
            },
            {
              "data": {"values": [{}]},
              "mark": {"type": "rule", "color": "#1A1A1A", "strokeWidth": 2},
              "encoding": {"x": {"datum": 15, "type": "quantitative"}, "y": {"datum": 0, "type": "quantitative"}, "y2": {"datum": 9}}
            }
          ]
        },
        {
          "width": 604, "height": 454,
          "layer": [
            {
              "data": {"values": [{}]},
              "mark": {"type": "rect"},
              "encoding": {"x": {"datum": 15.65, "type": "quantitative"}, "x2": {"datum": 2.5}, "y": {"datum": 6.41, "type": "quantitative"}, "y2": {"datum": -1.57}}
            },
            {
              "data": {"name": "gridB"},
              "mark": {"type": "rule"},
              "encoding": {"x": {"field": "phi", "type": "quantitative"}, "y": {"datum": 0, "type": "quantitative"}, "y2": {"datum": 6}}
            },
            {
              "data": {"name": "lithosubfacies2c"},
              "mark": {"type": "line"},
              "encoding": {
                "x": {"field": "phi", "type": "quantitative",
                  "scale": {"domain": [15, 5], "range": [42, 505], "nice": false, "zero": false},
                  "axis": {"orient": "bottom", "offset": -95, "values": [15,14,13,12,11,10,9,8,7,6,5], "title": "Grain size (ϕ)",
                    "domainColor": "#BCC9DE", "labelPadding": 27, "labelBaseline": "middle", "titleY": 62, "titleBaseline": "middle"}},
                "y": {"field": "conc", "type": "quantitative",
                  "scale": {"domain": [0, 6], "range": [359, 26], "nice": false, "zero": false},
                  "axis": {"orient": "right", "offset": -99, "values": [0,1,2,3,4,5,6], "title": "concentration",
                    "domainColor": "#8FA9D6", "labelPadding": 20, "titleAngle": 270, "titleX": 59, "titleBaseline": "middle"}},
                "color": {"field": "sample", "type": "nominal", "legend": null,
                  "scale": {"domain": ["a2","a4","a6","a5","a8","a7","a3","a1","b5","b4","b3","b2","b1","c4","c3","c2","c1","d3","d2","d1"],
                            "range": ["#ABABAB","#9A9A9A","#BFBFBF","#7A7A7A","#8A8A8A","#666666","#4D4D4D","#000000","#D4D4D4","#A0A0A0","#7F7F7F","#4D4D4D","#000000","#D0D0D0","#9A9A9A","#5F5F5F","#000000","#A6A6A6","#7A7A7A","#4D4D4D"]}}
              }
            },
            {
              "data": {"values": [{}]},
              "mark": {"type": "rule", "color": "#1A1A1A", "strokeWidth": 2},
              "encoding": {"x": {"datum": 15, "type": "quantitative"}, "x2": {"datum": 5}, "y": {"datum": 6, "type": "quantitative"}}
            },
            {
              "data": {"values": [{}]},
              "mark": {"type": "rule", "color": "#1A1A1A", "strokeWidth": 2},
              "encoding": {"x": {"datum": 15, "type": "quantitative"}, "y": {"datum": 0, "type": "quantitative"}, "y2": {"datum": 6}}
            }
          ]
        }
      ]
    },
    {
      "spacing": 0,
      "bounds": "flush",
      "hconcat": [
        {
          "width": 359, "height": 225,
          "data": {"name": "summary"},
          "transform": [{"filter": "datum.col == 1"}],
          "mark": {"type": "text", "align": "left", "baseline": "middle"},
          "encoding": {
            "x": {"value": 14},
            "y": {"field": "line", "type": "quantitative", "scale": {"domain": [1, 4], "range": [22, 197]}, "axis": null},
            "text": {"field": "text"}
          }
        },
        {
          "width": 245, "height": 225,
          "data": {"name": "summary"},
          "transform": [{"filter": "datum.col == 2"}],
          "mark": {"type": "text", "align": "left", "baseline": "middle"},
          "encoding": {
            "x": {"value": 14},
            "y": {"field": "line", "type": "quantitative", "scale": {"domain": [1, 4], "range": [22, 197]}, "axis": null},
            "text": {"field": "text"}
          }
        },
        {
          "width": 303, "height": 225,
          "data": {"name": "summary"},
          "transform": [{"filter": "datum.col == 3"}],
          "mark": {"type": "text", "align": "left", "baseline": "middle"},
          "encoding": {
            "x": {"value": 15},
            "y": {"field": "line", "type": "quantitative", "scale": {"domain": [1, 4], "range": [22, 197]}, "axis": null},
            "text": {"field": "text"}
          }
        },
        {
          "width": 301, "height": 225,
          "data": {"name": "summary"},
          "transform": [{"filter": "datum.col == 4"}],
          "mark": {"type": "text", "align": "left", "baseline": "middle"},
          "encoding": {
            "x": {"value": 15},
            "y": {"field": "line", "type": "quantitative", "scale": {"domain": [1, 4], "range": [22, 197]}, "axis": null},
            "text": {"field": "text"}
          }
        }
      ]
    },
    {
      "spacing": 0,
      "bounds": "flush",
      "hconcat": [
        {
          "width": 604, "height": 453,
          "layer": [
            {
              "data": {"values": [{}]},
              "mark": {"type": "rect"},
              "encoding": {"x": {"datum": 15.93, "type": "quantitative"}, "x2": {"datum": -1.51}, "y": {"datum": 4.28, "type": "quantitative"}, "y2": {"datum": -1.1}}
            },
            {
              "data": {"name": "gridCD"},
              "mark": {"type": "rule"},
              "encoding": {"x": {"field": "phi", "type": "quantitative"}, "y": {"datum": 0, "type": "quantitative"}, "y2": {"datum": 4}}
            },
            {
              "data": {"name": "chartC"},
              "mark": {"type": "line"},
              "encoding": {
                "x": {"field": "phi", "type": "quantitative",
                  "scale": {"domain": [15, 1], "range": [44, 512], "nice": false, "zero": false},
                  "axis": {"orient": "bottom", "offset": -85, "values": [15,14,13,12,11,10,9,8,7,6,5,4,3,2,1], "title": "Grain size (ϕ)",
                    "domainColor": "#BCC9DE", "labelPadding": 27, "labelBaseline": "middle", "titleY": 62, "titleBaseline": "middle"}},
                "y": {"field": "conc", "type": "quantitative",
                  "scale": {"domain": [0, 4], "range": [368, 26], "nice": false, "zero": false},
                  "axis": {"orient": "right", "offset": -92, "values": [0,1,2,3,4], "title": "concentration",
                    "domainColor": "#8FA9D6", "labelPadding": 19, "titleAngle": 270, "titleX": 58, "titleBaseline": "middle"}},
                "color": {"field": "sample", "type": "nominal", "legend": null,
                  "scale": {"domain": ["a2","a4","a6","a5","a8","a7","a3","a1","b5","b4","b3","b2","b1","c4","c3","c2","c1","d3","d2","d1"],
                            "range": ["#ABABAB","#9A9A9A","#BFBFBF","#7A7A7A","#8A8A8A","#666666","#4D4D4D","#000000","#D4D4D4","#A0A0A0","#7F7F7F","#4D4D4D","#000000","#D0D0D0","#9A9A9A","#5F5F5F","#000000","#A6A6A6","#7A7A7A","#4D4D4D"]}}
              }
            },
            {
              "data": {"values": [{}]},
              "mark": {"type": "rule", "color": "#1A1A1A", "strokeWidth": 2},
              "encoding": {"x": {"datum": 15, "type": "quantitative"}, "x2": {"datum": 1}, "y": {"datum": 4, "type": "quantitative"}}
            },
            {
              "data": {"values": [{}]},
              "mark": {"type": "rule", "color": "#1A1A1A", "strokeWidth": 2},
              "encoding": {"x": {"datum": 15, "type": "quantitative"}, "y": {"datum": 0, "type": "quantitative"}, "y2": {"datum": 4}}
            }
          ]
        },
        {
          "width": 604, "height": 453,
          "layer": [
            {
              "data": {"values": [{}]},
              "mark": {"type": "rect"},
              "encoding": {"x": {"datum": 15.92, "type": "quantitative"}, "x2": {"datum": -2.0}, "y": {"datum": 3.23, "type": "quantitative"}, "y2": {"datum": -0.85}}
            },
            {
              "data": {"name": "gridCD"},
              "mark": {"type": "rule"},
              "encoding": {"x": {"field": "phi", "type": "quantitative"}, "y": {"datum": 0, "type": "quantitative"}, "y2": {"datum": 3}}
            },
            {
              "data": {"name": "chartD"},
              "mark": {"type": "line"},
              "encoding": {
                "x": {"field": "phi", "type": "quantitative",
                  "scale": {"domain": [15, 1], "range": [45, 518], "nice": false, "zero": false},
                  "axis": {"orient": "bottom", "offset": -87, "values": [15,14,13,12,11,10,9,8,7,6,5,4,3,2,1], "title": "Grain size (ϕ)",
                    "domainColor": "#BCC9DE", "labelPadding": 27, "labelBaseline": "middle", "titleY": 61, "titleBaseline": "middle"}},
                "y": {"field": "conc", "type": "quantitative",
                  "scale": {"domain": [0, 3], "range": [366, 28], "nice": false, "zero": false},
                  "axis": {"orient": "right", "offset": -86, "values": [0,1,2,3], "title": "concentration",
                    "domainColor": "#8FA9D6", "labelPadding": 21, "titleAngle": 270, "titleX": 58, "titleBaseline": "middle"}},
                "color": {"field": "sample", "type": "nominal", "legend": null,
                  "scale": {"domain": ["a2","a4","a6","a5","a8","a7","a3","a1","b5","b4","b3","b2","b1","c4","c3","c2","c1","d3","d2","d1"],
                            "range": ["#ABABAB","#9A9A9A","#BFBFBF","#7A7A7A","#8A8A8A","#666666","#4D4D4D","#000000","#D4D4D4","#A0A0A0","#7F7F7F","#4D4D4D","#000000","#D0D0D0","#9A9A9A","#5F5F5F","#000000","#A6A6A6","#7A7A7A","#4D4D4D"]}}
              }
            },
            {
              "data": {"values": [{}]},
              "mark": {"type": "rule", "color": "#1A1A1A", "strokeWidth": 2},
              "encoding": {"x": {"datum": 15, "type": "quantitative"}, "x2": {"datum": 1}, "y": {"datum": 3, "type": "quantitative"}}
            },
            {
              "data": {"values": [{}]},
              "mark": {"type": "rule", "color": "#1A1A1A", "strokeWidth": 2},
              "encoding": {"x": {"datum": 15, "type": "quantitative"}, "y": {"datum": 0, "type": "quantitative"}, "y2": {"datum": 3}}
            }
          ]
        }
      ]
    }
  ]
}
